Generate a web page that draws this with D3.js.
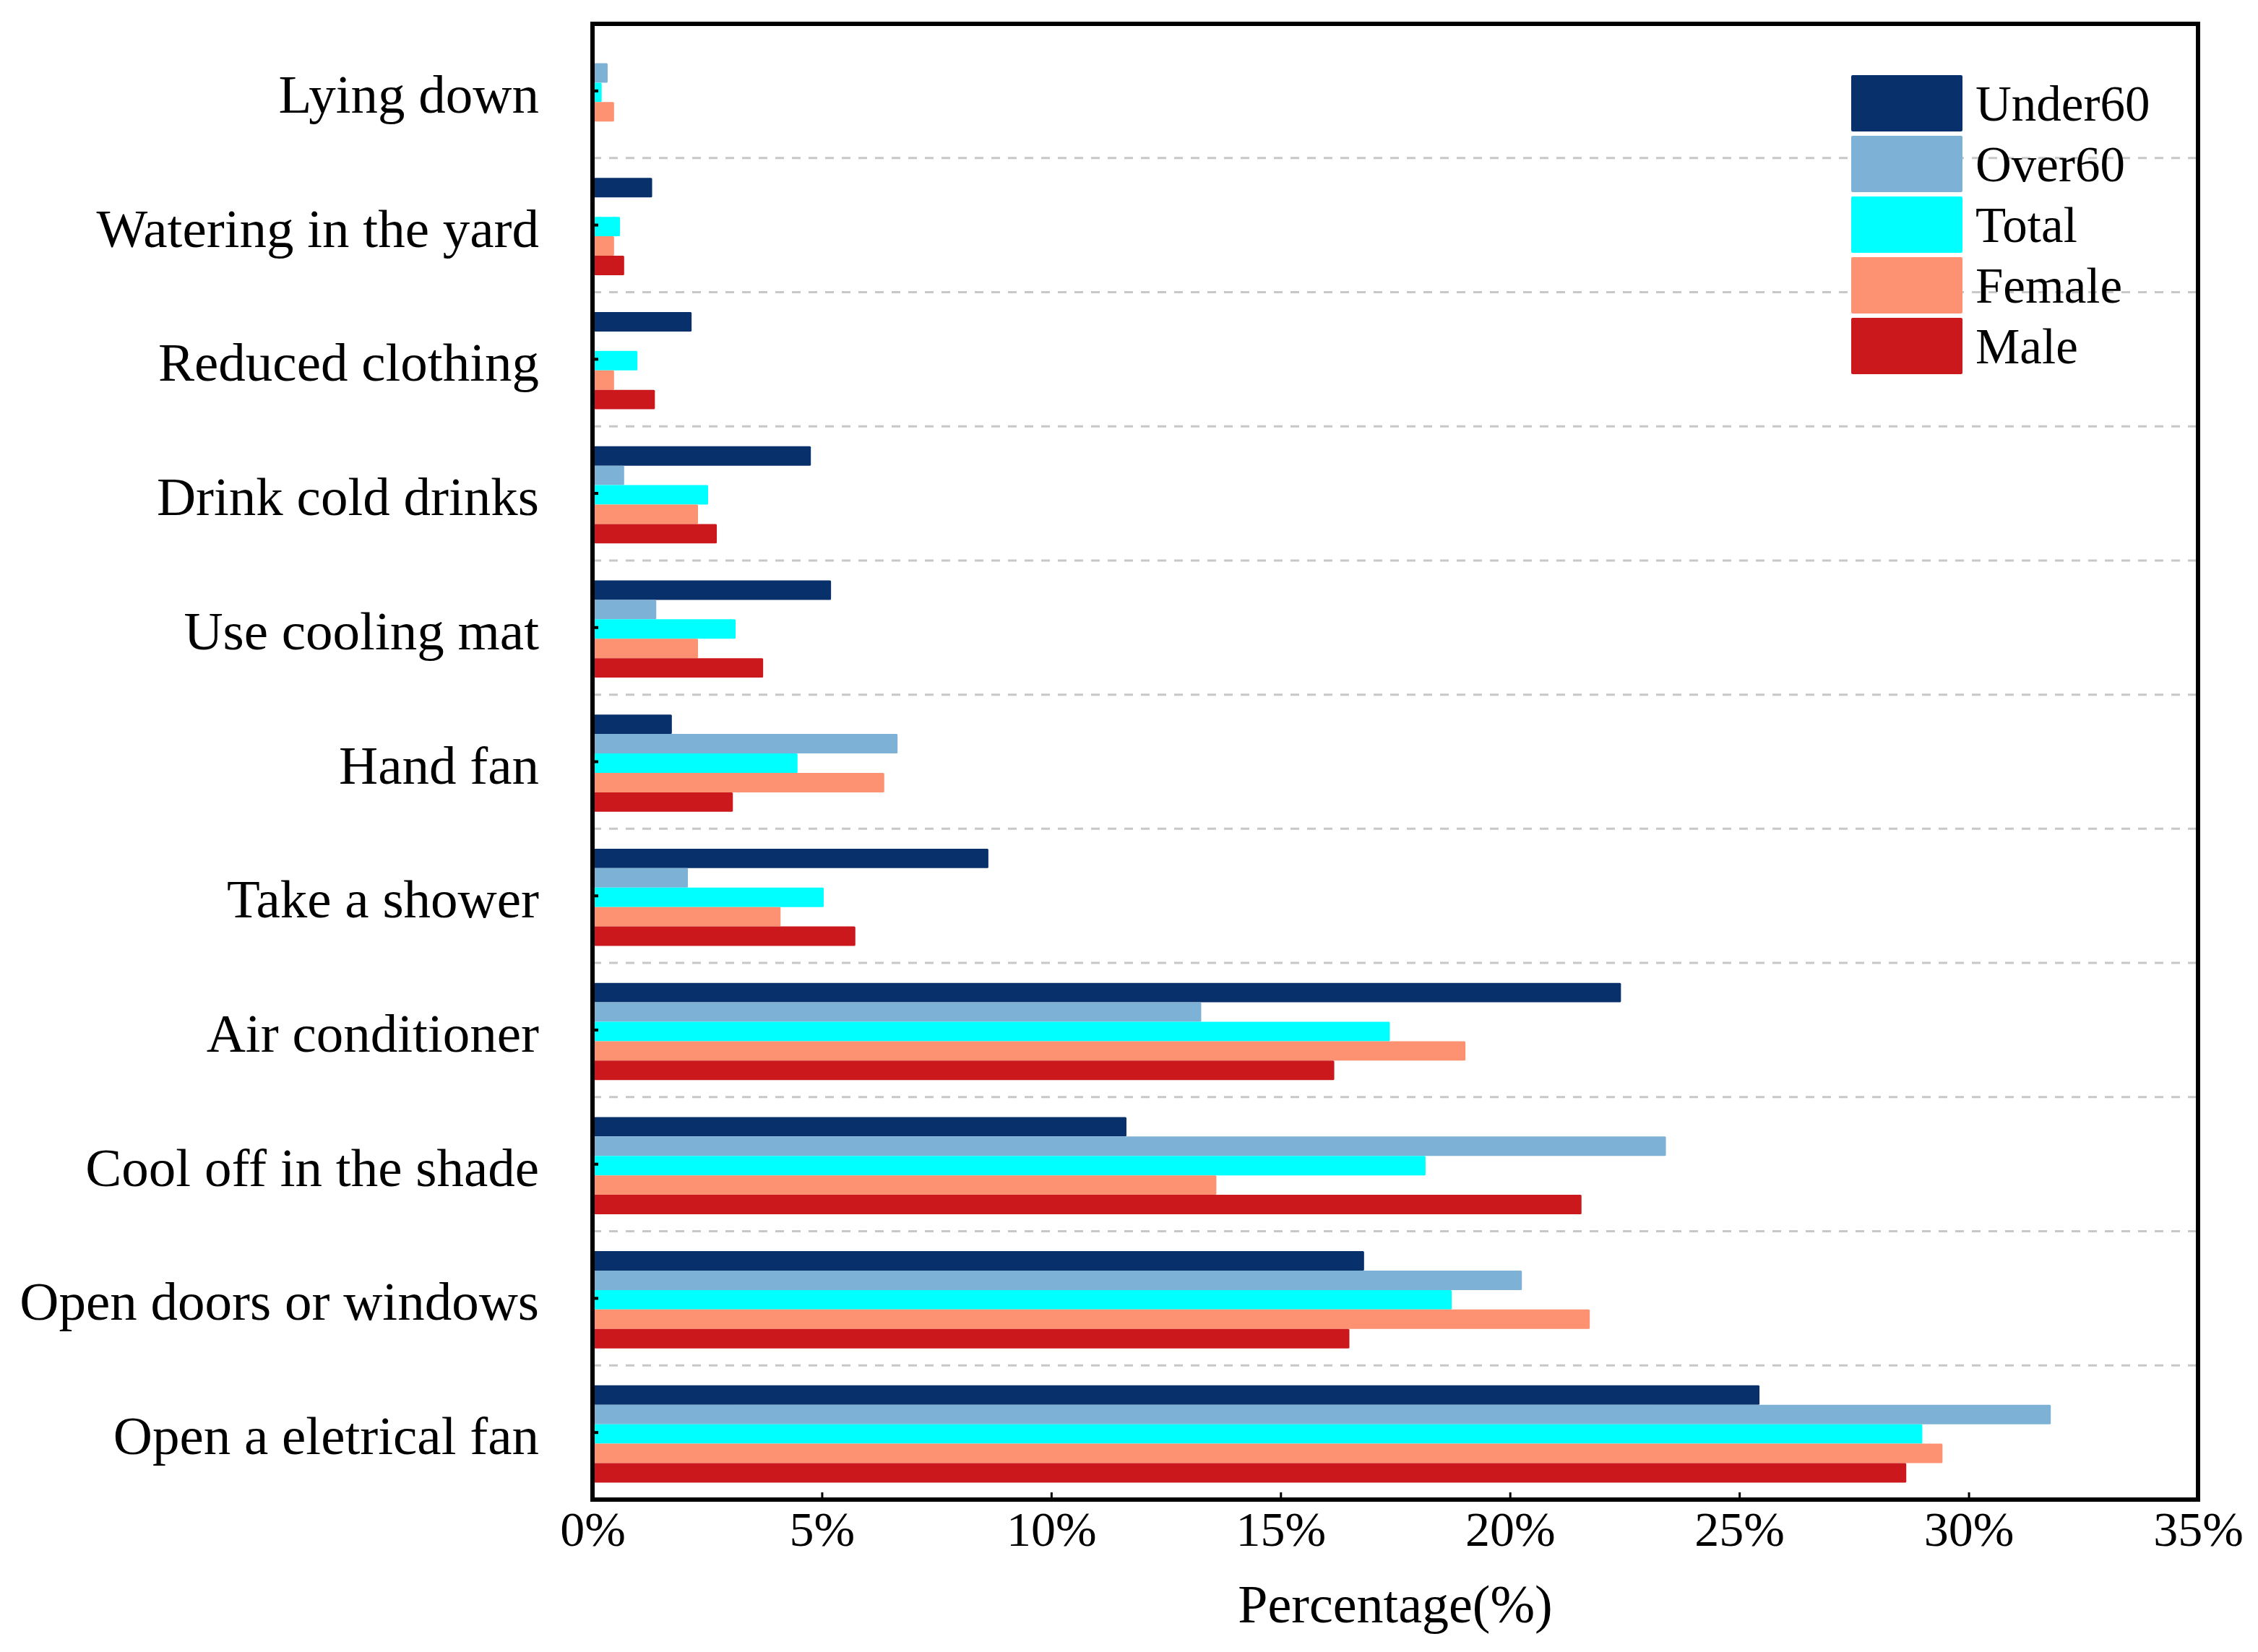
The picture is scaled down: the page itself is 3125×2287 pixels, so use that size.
<html>
<head>
<meta charset="utf-8">
<script src="https://d3js.org/d3.v7.min.js"></script>
<style>
  body { margin: 0; background: #fff; }
  text { font-family: "Liberation Serif", "Times New Roman", serif; fill: #000; }
</style>
</head>
<body>
<div class="chart"></div>
<script>
// categories, top to bottom
const categories = ["Lying down", "Watering in the yard", "Reduced clothing", "Drink cold drinks",
  "Use cooling mat", "Hand fan", "Take a shower", "Air conditioner", "Cool off in the shade",
  "Open doors or windows", "Open a eletrical fan"];
const seriesNames = ["Under60", "Over60", "Total", "Female", "Male"];
// percentages
const under60 = [0, 1.3, 2.16, 4.76, 5.2, 1.73, 8.63, 22.42, 11.64, 16.82, 25.44];
const over60  = [0.33, 0, 0, 0.69, 1.39, 6.65, 2.08, 13.27, 23.4, 20.26, 31.79];
const total   = [0.2, 0.6, 0.98, 2.52, 3.12, 4.47, 5.04, 17.38, 18.16, 18.73, 28.99];
const female  = [0.47, 0.47, 0.47, 2.3, 2.3, 6.36, 4.1, 19.03, 13.6, 21.74, 29.43];
const male    = [0, 0.69, 1.36, 2.71, 3.72, 3.06, 5.73, 16.17, 21.56, 16.5, 28.64];
const xTicks = [0, 5, 10, 15, 20, 25, 30, 35];

const seriesValues = [under60, over60, total, female, male];

const W = 3125, H = 2287;
const m = {left: 820, right: 83, top: 33, bottom: 211};

const svg = d3.select('.chart').append('svg')
  .attr('width', W).attr('height', H);

const x = d3.scaleLinear().domain([0, 35]).range([m.left, W - m.right]);
const y = d3.scaleBand().domain(categories).range([m.top, H - m.bottom]).paddingInner(0);
const ySub = d3.scaleBand().domain(seriesNames).range([0, y.bandwidth()]).paddingOuter(0.95);
const color = d3.scaleOrdinal().domain(seriesNames)
  .range(["#08306b", "#7db2d6", "#00ffff", "#fc9272", "#cb181d"]);

// dashed separators between categories
svg.append('g').selectAll('line')
  .data(categories.slice(1))
  .join('line')
  .attr('x1', x(0)).attr('x2', x(35))
  .attr('y1', d => y(d)).attr('y2', d => y(d))
  .attr('stroke', '#c8c8c8').attr('stroke-width', 3)
  .attr('stroke-dasharray', '12,11');

// bars
const rows = [];
categories.forEach((c, i) => {
  seriesNames.forEach((s, j) => rows.push({cat: c, series: s, value: seriesValues[j][i]}));
});
svg.append('g').selectAll('rect')
  .data(rows)
  .join('rect')
  .attr('x', x(0))
  .attr('y', d => y(d.cat) + ySub(d.series) + 2)
  .attr('width', d => x(d.value) - x(0))
  .attr('height', ySub.bandwidth())
  .attr('rx', 1.5)
  .attr('fill', d => color(d.series));

// axes
const yAxis = d3.axisLeft(y).tickSizeInner(-8).tickSizeOuter(0).tickPadding(74);
const yG = svg.append('g').attr('transform', `translate(${x(0)},0)`).call(yAxis);
yG.select('.domain').remove();
yG.selectAll('.tick line').attr('stroke', '#000').attr('stroke-width', 4);
yG.selectAll('.tick text').attr('dy', '0.4em')
  .style('font-size', '75px').style('font-family', '"Liberation Serif", serif');

const xAxis = d3.axisBottom(x).tickValues(xTicks).tickFormat(d => d + '%')
  .tickSizeInner(-10).tickSizeOuter(0).tickPadding(16);
const xG = svg.append('g').attr('transform', `translate(0,${H - m.bottom})`).call(xAxis);
xG.select('.domain').remove();
xG.selectAll('.tick line').attr('stroke', '#000').attr('stroke-width', 3);
xG.selectAll('.tick text').style('font-size', '68px').style('font-family', '"Liberation Serif", serif');

// frame
svg.append('rect')
  .attr('x', x(0)).attr('y', m.top)
  .attr('width', x(35) - x(0)).attr('height', H - m.bottom - m.top)
  .attr('fill', 'none').attr('stroke', '#000').attr('stroke-width', 6);

svg.append('text')
  .attr('x', (x(0) + x(35)) / 2).attr('y', 2246)
  .attr('text-anchor', 'middle')
  .style('font-size', '74px')
  .text('Percentage(%)');

// legend
const legend = svg.append('g').attr('transform', 'translate(2562,104)');
const lg = legend.selectAll('g')
  .data(seriesNames)
  .join('g')
  .attr('transform', (d, i) => `translate(0,${i * 84})`);
lg.append('rect')
  .attr('width', 154).attr('height', 78).attr('rx', 2)
  .attr('fill', d => color(d));
lg.append('text')
  .attr('x', 172).attr('y', 39).attr('dy', '0.35em')
  .style('font-size', '69px')
  .text(d => d);
</script>
</body>
</html>
